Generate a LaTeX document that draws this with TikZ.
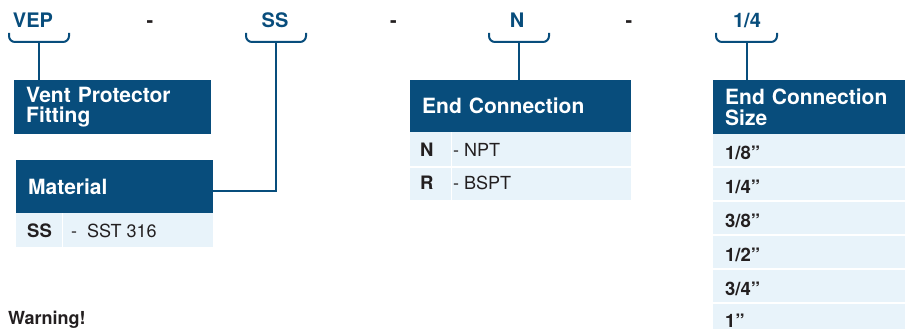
\documentclass[tikz,border=0pt]{standalone}
\usepackage{fontspec}
\setmainfont{TeX Gyre Heros}
\definecolor{hdrblue}{RGB}{8,77,124}
\definecolor{rowblue}{RGB}{232,243,250}
\definecolor{ink}{RGB}{35,31,32}
\tikzset{
 hdr/.style={fill=hdrblue, text=white, font=\fontsize{21}{20.5}\selectfont\bfseries, anchor=north west, inner xsep=12pt, inner ysep=0pt, align=left},
 rowbox/.style={fill=rowblue, anchor=north west, inner sep=0pt},
 key/.style={anchor=base west, inner sep=0pt, text=ink, font=\fontsize{18.5}{20}\selectfont\bfseries},
 val/.style={anchor=base west, inner sep=0pt, text=ink, font=\fontsize{18}{20}\selectfont},
 codelbl/.style={anchor=base, inner sep=0pt, text=hdrblue, font=\fontsize{20}{20}\selectfont\bfseries},
 seplbl/.style={anchor=base, inner sep=0pt, text=ink, font=\fontsize{20}{20}\selectfont\bfseries},
 conn/.style={draw=hdrblue, line width=2pt},
 bracepath/.style={conn, rounded corners=6pt},
 colsep/.style={draw=white, line width=0.8pt},
}
\begin{document}
\begin{tikzpicture}[x=1pt,y=-1pt]
\useasboundingbox (0,0) rectangle (905,329);

% top code labels
\node[codelbl] (vep) at (33,28) {VEP};
\node[seplbl] (d1) at (150,28) {-};
\node[codelbl] (ss) at (275,28) {SS};
\node[seplbl] (d2) at (393.5,28) {-};
\node[codelbl] (n) at (517,28) {N};
\node[seplbl] (d3) at (629,28) {-};
\node[codelbl] (qs) at (747,28) {1/4};

% braces
\draw[bracepath] (9,33) -- (9,42) -- (69,42) -- (69,33);
\coordinate (vepb) at (39,42);
\draw[bracepath] (246,33) -- (246,42) -- (306,42) -- (306,33);
\coordinate (ssb) at (276,42);
\draw[bracepath] (489,33) -- (489,42) -- (549,42) -- (549,33);
\coordinate (nb) at (519,42);
\draw[bracepath] (716,33) -- (716,42) -- (777,42) -- (777,33);
\coordinate (qsb) at (747,42);

% Vent Protector Fitting
\node[hdr, minimum width=197pt, minimum height=54pt, text width=173pt] (vpf) at (14,80) {\raisebox{-1.5pt}{\parbox{173pt}{Vent Protector\\Fitting}}};

% Material
\node[hdr, minimum width=197pt, minimum height=53pt, text width=173pt] (mat) at (16,160) {Material};
\node[rowbox, minimum width=197pt, minimum height=34pt] (matr) at (16,213) {};
\draw[colsep] (62,213) -- (62,247);
\node[key] (matk) at (27,237) {SS};
\node[val] (matv) at (71,237) {-\ \ SST 316};

% End Connection
\node[hdr, minimum width=221pt, minimum height=52pt, text width=197pt] (endc) at (410,80) {End Connection};
\node[rowbox, minimum width=221pt, minimum height=34pt] (er1) at (410,132) {};
\node[rowbox, minimum width=221pt, minimum height=32.5pt] (er2) at (410,167.5) {};
\draw[colsep] (451,132) -- (451,200);
\node[key] (ek1) at (420,156) {N};
\node[val] (ev1) at (453,156) {- NPT};
\node[key] (ek2) at (420,189.5) {R};
\node[val] (ev2) at (453,189.5) {- BSPT};

% End Connection Size
\node[hdr, minimum width=192pt, minimum height=54pt, text width=168pt] (size) at (713,80) {\raisebox{-1pt}{\parbox{168pt}{End Connection\\Size}}};
\node[rowbox, minimum width=192pt, minimum height=32pt] (s1) at (713,134) {};
\node[rowbox, minimum width=192pt, minimum height=32pt] (s2) at (713,168) {};
\node[rowbox, minimum width=192pt, minimum height=32pt] (s3) at (713,202) {};
\node[rowbox, minimum width=192pt, minimum height=32pt] (s4) at (713,236) {};
\node[rowbox, minimum width=192pt, minimum height=32pt] (s5) at (713,270) {};
\node[rowbox, minimum width=192pt, minimum height=26pt] (s6) at (713,303.5) {};
\node[key] (sk1) at (725,159) {1/8”};
\node[key] (sk2) at (725,193) {1/4”};
\node[key] (sk3) at (725,227.5) {3/8”};
\node[key] (sk4) at (725,261.5) {1/2”};
\node[key] (sk5) at (725,295.5) {3/4”};
\node[key] (sk6) at (725,327.5) {1”};

% Warning
\node[key, font=\fontsize{18}{20}\selectfont\bfseries] (warn) at (8,324) {Warning!};

% connectors
\draw[conn] (vepb) -- (vepb |- vpf.north);
\draw[conn] (ssb) |- ([yshift=-4pt]mat.east);
\draw[conn] (nb) -- (nb |- endc.north);
\draw[conn] (qsb) -- (qsb |- size.north);
\end{tikzpicture}
\end{document}
